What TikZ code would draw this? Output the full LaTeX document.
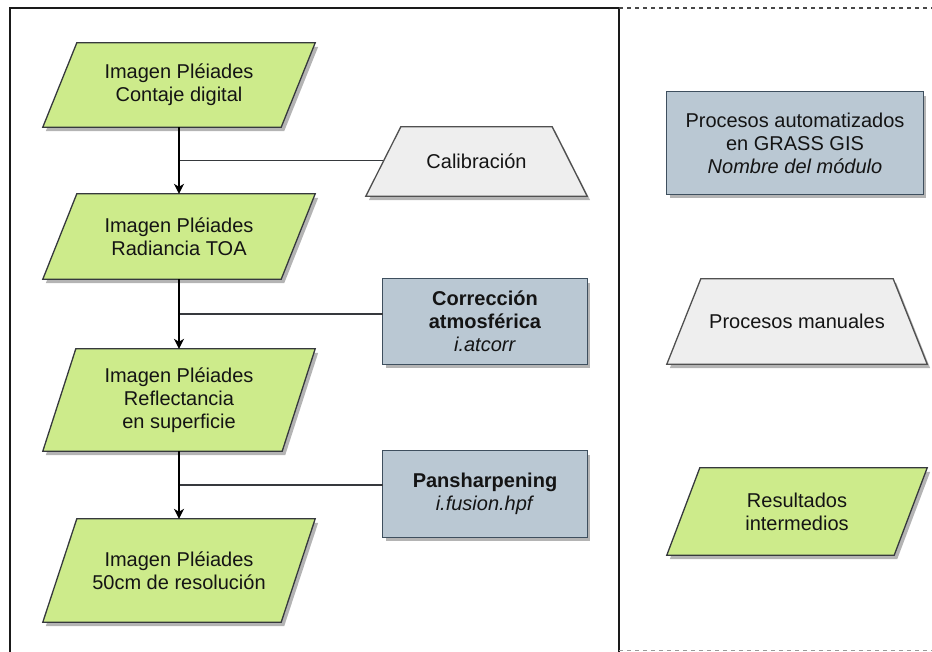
\documentclass[tikz,border=0pt]{standalone}
\usepackage{fontspec}
\setmainfont{Liberation Sans}
\usetikzlibrary{calc,arrows.meta,backgrounds}
\definecolor{gfill}{HTML}{CDEB8B}
\definecolor{gline}{HTML}{36393D}
\definecolor{bfill}{HTML}{BAC8D3}
\definecolor{bline}{HTML}{3E4F5E}
\definecolor{mfill}{HTML}{EEEEEE}
\definecolor{mline}{HTML}{505050}
\definecolor{framec}{HTML}{1A1A1A}
\definecolor{shadowgray}{HTML}{B4B4B4}
\begin{document}
\begin{tikzpicture}[x=1pt,y=-1pt,
  txt/.style={inner sep=0pt, align=center, font=\fontsize{20}{23}\selectfont, text=black!92},
  shapebox/.style 2 args={txt, minimum width=#1, minimum height=#2},
  gshape/.style={fill=gfill, draw=gline, line width=1.3pt, line join=miter},
  bshape/.style={fill=bfill, draw=bline, line width=1.3pt},
  mshape/.style={fill=mfill, draw=mline, line width=1.3pt},
  flow/.style={-{Stealth[length=10pt,width=10pt,inset=3pt]}, line width=1.3pt, black},
  link/.style={line width=1.3pt, gline},
  framel/.style={line width=1.5pt, framec},
  dashl/.style={line width=1.5pt, framec!80, dash pattern=on 4pt off 4pt}
]
\useasboundingbox (0,0) rectangle (932,652);

% frame
\draw[framel] (10,652) -- (10,8) -- (619,8) -- (619,652);
\draw[dashl] (619,8) -- (932,8);
\draw[dashl, framec!45] (619,650.5) -- (932,650.5);

% main flow nodes
\node[shapebox={272}{84}]  (p1) at (179,85)    {Imagen Pléiades\\Contaje digital};
\node[shapebox={272}{85}]  (p2) at (179,236.5) {Imagen Pléiades\\Radiancia TOA};
\node[shapebox={272}{102}] (p3) at (179,400)   {Imagen Pléiades\\Reflectancia\\en superficie};
\node[shapebox={272}{103}] (p4) at (179,570.5) {Imagen Pléiades\\50cm de resolución};

% process nodes
\node[shapebox={221}{69}]  (cal)  at (476.5,161.5) {Calibración};
\node[shapebox={204}{85}]  (corr) at (485,321.5)   {\textbf{Corrección}\\\textbf{atmosférica}\\\textit{i.atcorr}};
\node[shapebox={204}{86}]  (pan)  at (485,494)     {\textbf{Pansharpening}\\\textit{i.fusion.hpf}};

% legend nodes
\node[shapebox={256}{102}] (lg1) at (795,143)   {Procesos automatizados\\en GRASS GIS\\\textit{Nombre del módulo}};
\node[shapebox={260}{85}]  (lg2) at (797,321.5) {Procesos manuales};
\node[shapebox={260}{87}]  (lg3) at (797,511.5) {Resultados\\intermedios};

\begin{scope}[on background layer]
  % parallelograms
  \foreach \n/\s in {p1/34,p2/34,p3/33,p4/34,lg3/33} {
    \path[fill=shadowgray] ([shift={(3pt,-4pt)}]\n.south west) -- ([shift={(\s pt+3pt,-4pt)}]\n.north west)
      -- ([shift={(3pt,-4pt)}]\n.north east) -- ([shift={(-\s pt+3pt,-4pt)}]\n.south east) -- cycle;
    \draw[gshape] (\n.south west) -- ([xshift=\s pt]\n.north west)
      -- (\n.north east) -- ([xshift=-\s pt]\n.south east) -- cycle;
  }
  % trapezoids
  \foreach \n/\s in {cal/35,lg2/34} {
    \path[fill=shadowgray] ([shift={(3pt,-4pt)}]\n.south west) -- ([shift={(\s pt+3pt,-4pt)}]\n.north west)
      -- ([shift={(-\s pt+3pt,-4pt)}]\n.north east) -- ([shift={(3pt,-4pt)}]\n.south east) -- cycle;
    \draw[mshape] (\n.south west) -- ([xshift=\s pt]\n.north west)
      -- ([xshift=-\s pt]\n.north east) -- (\n.south east) -- cycle;
  }
  % rectangles
  \foreach \n in {corr,pan,lg1} {
    \path[fill=shadowgray] ([shift={(3pt,-4pt)}]\n.south west) rectangle ([shift={(3pt,-4pt)}]\n.north east);
    \draw[bshape] (\n.south west) rectangle (\n.north east);
  }
\end{scope}

% connectors
\coordinate (m1) at ($(p1.south)!0.5!(p2.north)$);
\coordinate (m2) at ($(p2.south)!0.5!(p3.north)$);
\coordinate (m3) at ($(p3.south)!0.5!(p4.north)$);
\draw[link] (m1) -- ([xshift=17.5pt]m1 -| cal.west);
\draw[link] (m2) -- (m2 -| corr.west);
\draw[link] (m3) -- (m3 -| pan.west);
\draw[flow] (p1.south) -- (p2.north);
\draw[flow] (p2.south) -- (p3.north);
\draw[flow] (p3.south) -- (p4.north);
\end{tikzpicture}
\end{document}
